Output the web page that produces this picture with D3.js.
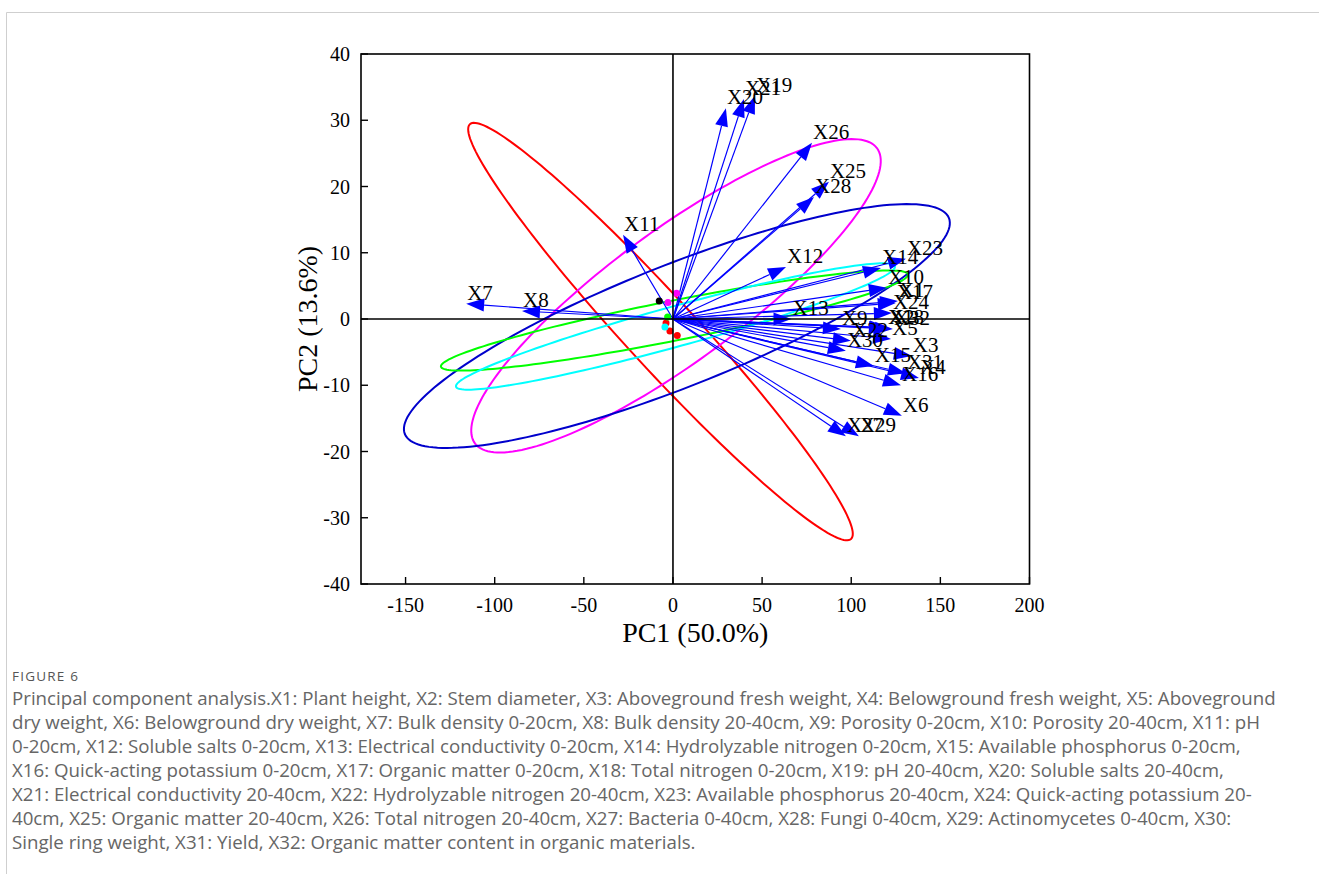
<!DOCTYPE html>
<html lang="en">
<head>
    <meta charset="UTF-8">
    <title>PCA biplot</title>
    <script src="https://d3js.org/d3.v7.min.js"></script>
    <style>
        body { margin: 0; background: #fff; }
        #canvas { display: block; }
        .tick-label { font-family: 'Liberation Serif', serif; font-size: 20px; fill: #000; }
        .axis-title { font-family: 'Liberation Serif', serif; font-size: 28px; fill: #000; }
        .var-label { font-family: 'Liberation Serif', serif; font-size: 21px; fill: #000; }
        .cap { font-family: 'Open Sans', sans-serif; fill: #666; }
    </style>
</head>
<body>
<svg id="canvas" width="1319" height="874"></svg>
<script>
    // loadings (arrows)
    let varNames = ['X1','X2','X3','X4','X5','X6','X7','X8','X9','X10','X11','X12','X13','X14','X15','X16',
                    'X17','X18','X19','X20','X21','X22','X23','X24','X25','X26','X27','X28','X29','X30','X31','X32'];
    let pc1 = [126.2, 120.5, 134.0, 138.0, 122.3, 128.4, -116.0, -84.7, 94.2, 120.0, -28.0, 63.4, 66.5, 116.7, 112.7, 127.9,
               125.0, 120.0, 46.0, 29.7, 39.8, 99.8, 130.7, 122.8, 87.5, 78.0, 97.0, 79.1, 104.3, 97.0, 130.7, 123.4];
    let pc2 = [2.7, -1.3, -5.6, -8.9, -3.0, -14.6, 2.3, 1.2, -1.5, 4.7, 12.7, 7.85, 0.0, 7.7, -7.1, -10.0,
               2.4, -1.4, 33.7, 31.8, 33.2, -3.3, 9.1, 0.9, 20.7, 26.6, -17.7, 18.4, -17.7, -4.8, -8.2, -1.5];

    // sample scores
    let ptX = [-3.9, -1.7, 2.4, 2.0, -2.8, -7.7, -4.5, -3.0];
    let ptY = [-0.6, -1.8, -2.5, 3.9, 2.5, 2.7, -1.2, 0.3];
    let ptColor = ['#ff0000', '#ff0000', '#ff0000', '#ff00ff', '#ff00ff', '#000000', '#00ffff', '#00ff00'];

    // group ellipses: centre and two conjugate half-axes, in data units
    let ellColor = ['#ff0000', '#ff00ff', '#0000cc', '#00ff00', '#00ffff'];
    let ellCx = [-7.0, 1.7, 2.2, 0.84, 1.4];
    let ellCy = [-1.9, 3.5, -1.06, -0.23, -1.13];
    let ellAx = [106.9, 112.7, 152.6, 131.0, 123.1];
    let ellAy = [-31.3, 22.3, 16.3, 6.96, 9.08];
    let ellBx = [14.5, 22.2, 12.6, 2.15, 2.97];
    let ellBy = [3.6, -7.9, -8.55, -2.95, -2.92];

    let xTicks = [-150, -100, -50, 0, 50, 100, 150, 200];
    let yTicks = [-40, -30, -20, -10, 0, 10, 20, 30, 40];

    let captionLines = [
        'Principal component analysis.X1: Plant height, X2: Stem diameter, X3: Aboveground fresh weight, X4: Belowground fresh weight, X5: Aboveground',
        'dry weight, X6: Belowground dry weight, X7: Bulk density 0-20cm, X8: Bulk density 20-40cm, X9: Porosity 0-20cm, X10: Porosity 20-40cm, X11: pH',
        '0-20cm, X12: Soluble salts 0-20cm, X13: Electrical conductivity 0-20cm, X14: Hydrolyzable nitrogen 0-20cm, X15: Available phosphorus 0-20cm,',
        'X16: Quick-acting potassium 0-20cm, X17: Organic matter 0-20cm, X18: Total nitrogen 0-20cm, X19: pH 20-40cm, X20: Soluble salts 20-40cm,',
        'X21: Electrical conductivity 20-40cm, X22: Hydrolyzable nitrogen 20-40cm, X23: Available phosphorus 20-40cm, X24: Quick-acting potassium 20-',
        '40cm, X25: Organic matter 20-40cm, X26: Total nitrogen 20-40cm, X27: Bacteria 0-40cm, X28: Fungi 0-40cm, X29: Actinomycetes 0-40cm, X30:',
        'Single ring weight, X31: Yield, X32: Organic matter content in organic materials.'
    ];
</script>
<script>
    let svg = d3.select('#canvas');

    // page border (left + top only)
    svg.append('path')
        .attr('d', 'M6.5,874 V12.5 H1319')
        .attr('fill', 'none')
        .attr('stroke', '#cfcfcf')
        .attr('stroke-width', 1);

    let x = d3.scaleLinear().domain([-175, 200]).range([361, 1029.5]);
    let y = d3.scaleLinear().domain([-40, 40]).range([584, 54]);

    // ellipses
    let ellGroup = svg.append('g');
    let steps = d3.range(0, 181).map(i => i / 180 * 2 * Math.PI);
    ellColor.forEach(function(c, k){
        let pts = steps.map(t => [
            x(ellCx[k] + Math.cos(t) * ellAx[k] + Math.sin(t) * ellBx[k]),
            y(ellCy[k] + Math.cos(t) * ellAy[k] + Math.sin(t) * ellBy[k])
        ]);
        ellGroup.append('path')
            .attr('d', d3.line()(pts) + 'Z')
            .attr('fill', 'none')
            .attr('stroke', c)
            .attr('stroke-width', 2);
    });

    // arrows
    let headLen = 18, headHalf = 6.5;
    let arrows = svg.append('g');
    varNames.forEach(function(name, i){
        let x0 = x(0), y0 = y(0), x1 = x(pc1[i]), y1 = y(pc2[i]);
        let len = Math.hypot(x1 - x0, y1 - y0);
        let ux = (x1 - x0) / len, uy = (y1 - y0) / len;
        let bx = x1 - ux * headLen, by = y1 - uy * headLen;
        arrows.append('line')
            .attr('x1', x0).attr('y1', y0)
            .attr('x2', bx).attr('y2', by)
            .attr('stroke', '#0000ff')
            .attr('stroke-width', 1.2);
        arrows.append('path')
            .attr('d', 'M' + x1 + ',' + y1 +
                       'L' + (bx - uy * headHalf) + ',' + (by + ux * headHalf) +
                       'L' + (bx + uy * headHalf) + ',' + (by - ux * headHalf) + 'Z')
            .attr('fill', '#0000ff');
    });

    // sample points
    svg.append('g').selectAll('circle')
        .data(ptX)
        .enter()
        .append('circle')
        .attr('cx', d => x(d))
        .attr('cy', (d, i) => y(ptY[i]))
        .attr('r', 3.5)
        .attr('fill', (d, i) => ptColor[i]);

    // zero lines
    svg.append('line')
        .attr('x1', x(-175)).attr('x2', x(200))
        .attr('y1', y(0)).attr('y2', y(0))
        .attr('stroke', '#000').attr('stroke-width', 1.6);
    svg.append('line')
        .attr('x1', x(0)).attr('x2', x(0))
        .attr('y1', y(-40)).attr('y2', y(40))
        .attr('stroke', '#000').attr('stroke-width', 1.6);

    // variable labels
    svg.append('g').selectAll('text')
        .data(varNames)
        .enter()
        .append('text')
        .attr('class', 'var-label')
        .attr('x', (d, i) => x(pc1[i]) + 1)
        .attr('y', (d, i) => y(pc2[i]) - 4)
        .text(d => d);

    // frame
    svg.append('rect')
        .attr('x', x(-175)).attr('y', y(40))
        .attr('width', x(200) - x(-175))
        .attr('height', y(-40) - y(40))
        .attr('fill', 'none')
        .attr('stroke', '#000')
        .attr('stroke-width', 1.6);

    // inward ticks + labels
    let tickLen = 7;
    xTicks.forEach(function(t){
        svg.append('line')
            .attr('x1', x(t)).attr('x2', x(t))
            .attr('y1', y(-40)).attr('y2', y(-40) - tickLen)
            .attr('stroke', '#000').attr('stroke-width', 1.4);
        svg.append('text')
            .attr('class', 'tick-label')
            .attr('x', x(t))
            .attr('y', 612)
            .attr('text-anchor', 'middle')
            .text(t);
    });
    yTicks.forEach(function(t){
        svg.append('line')
            .attr('x1', x(-175)).attr('x2', x(-175) + tickLen)
            .attr('y1', y(t)).attr('y2', y(t))
            .attr('stroke', '#000').attr('stroke-width', 1.4);
        svg.append('text')
            .attr('class', 'tick-label')
            .attr('x', 350)
            .attr('y', y(t) + 7)
            .attr('text-anchor', 'end')
            .text(t);
    });

    svg.append('text')
        .attr('class', 'axis-title')
        .attr('x', (x(-175) + x(200)) / 2)
        .attr('y', 642)
        .attr('text-anchor', 'middle')
        .text('PC1 (50.0%)');
    svg.append('text')
        .attr('class', 'axis-title')
        .attr('transform', 'translate(317,' + ((y(40) + y(-40)) / 2) + ') rotate(-90)')
        .attr('text-anchor', 'middle')
        .text('PC2 (13.6%)');

    // caption
    svg.append('text')
        .attr('class', 'cap')
        .attr('x', 12)
        .attr('y', 681)
        .style('font-size', '13.5px')
        .style('letter-spacing', '1.2px')
        .style('fill', '#555')
        .text('FIGURE 6');
    let capSize = 17;
    let capGroup = svg.append('g');
    captionLines.forEach(function(line, i){
        capGroup.append('text')
            .attr('class', 'cap')
            .attr('x', 12)
            .attr('y', 705 + i * 24)
            .style('font-size', capSize + 'px')
            .text(line);
    });
    // fit font size so the first line spans the same width as the figure's caption
    let firstW = capGroup.select('text').node().getComputedTextLength();
    let fitted = capSize * 1265 / firstW;
    capGroup.selectAll('text').style('font-size', fitted + 'px');
</script>
</body>
</html>
